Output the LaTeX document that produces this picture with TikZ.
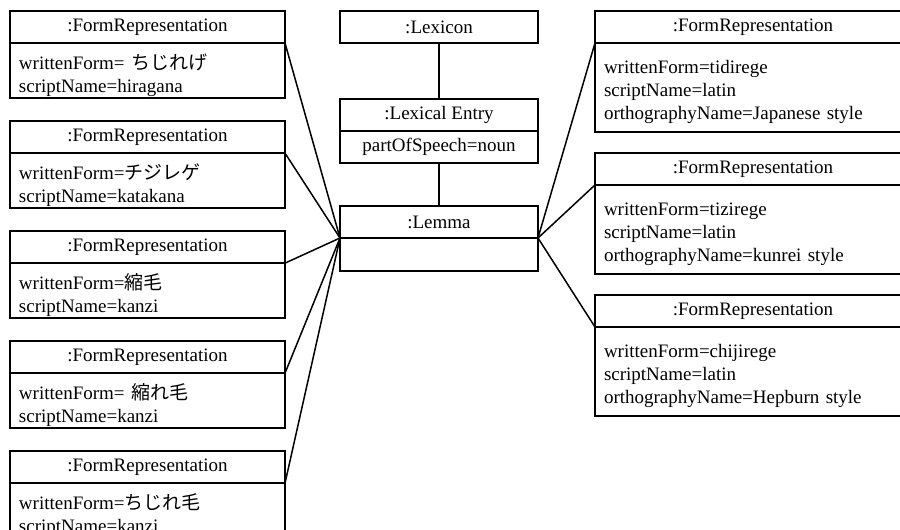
\documentclass[tikz,border=0pt]{standalone}
\usepackage{fontspec}
\setmainfont{Liberation Serif}
\newfontfamily\jpfont{Noto Sans CJK JP}
\usetikzlibrary{positioning}

\begin{document}
\begin{tikzpicture}[
        x=1pt, y=1pt,
        % Styles
        objhead/.style={rectangle, draw, line width=1.6pt, outer sep=0pt, inner sep=0pt, minimum height=32pt, font=\fontsize{19}{23}\selectfont},
        objbody/.style={rectangle, draw, line width=1.6pt, outer sep=0pt, inner xsep=9pt, inner ysep=2pt, align=left, font=\fontsize{19}{23}\selectfont},
        leftbox/.style={minimum width=275pt},
        leftbody/.style={objbody, leftbox, text width=257pt, minimum height=55pt, execute at begin node={\rule{0pt}{24pt}}},
        rightbox/.style={minimum width=316pt},
        rightbody/.style={objbody, rightbox, text width=298pt, minimum height=89pt, execute at begin node={\rule{0pt}{22pt}}},
        midbox/.style={minimum width=198pt},
        line/.style={draw, line width=1.5pt}
    ]
        \useasboundingbox (0,0) rectangle (900,-530);
        \clip (0,0) rectangle (900,-530);

        % Center column
        \node [objhead, midbox, anchor=north west] (lexicon) at (340,-11) {:Lexicon};
        \node [objhead, midbox, below=56pt of lexicon] (entryhead) {:Lexical Entry};
        \node [objbody, midbox, minimum height=32pt, align=center, below=0pt of entryhead] (entrybody) {partOfSpeech=noun};
        \node [objhead, midbox, below=43pt of entrybody] (lemmahead) {:Lemma};
        \node [objbody, midbox, minimum height=33pt, below=0pt of lemmahead] (lemmabody) {};

        % Left column
        \node [objhead, leftbox, anchor=north west] (hira) at (10,-11) {:FormRepresentation};
        \node [leftbody, below=0pt of hira] (hirabody) {writtenForm= {\jpfont ちじれげ}\\scriptName=hiragana};
        \node [objhead, leftbox, below=23pt of hirabody] (kata) {:FormRepresentation};
        \node [leftbody, below=0pt of kata] (katabody) {writtenForm={\jpfont チジレゲ}\\scriptName=katakana};
        \node [objhead, leftbox, below=23pt of katabody] (kanjia) {:FormRepresentation};
        \node [leftbody, below=0pt of kanjia] (kanjiabody) {writtenForm={\jpfont 縮毛}\\scriptName=kanzi};
        \node [objhead, leftbox, below=23pt of kanjiabody] (kanjib) {:FormRepresentation};
        \node [leftbody, below=0pt of kanjib] (kanjibbody) {writtenForm= {\jpfont 縮れ毛}\\scriptName=kanzi};
        \node [objhead, leftbox, below=23pt of kanjibbody] (kanjic) {:FormRepresentation};
        \node [leftbody, below=0pt of kanjic] (kanjicbody) {writtenForm={\jpfont ちじれ毛}\\scriptName=kanzi};

        % Right column
        \node [objhead, rightbox, anchor=north west] (japan) at (595,-11) {:FormRepresentation};
        \node [rightbody, below=0pt of japan] (japanbody) {writtenForm=tidirege\\scriptName=latin\\orthographyName=Japanese style};
        \node [objhead, rightbox, below=21pt of japanbody] (kunrei) {:FormRepresentation};
        \node [rightbody, below=0pt of kunrei] (kunreibody) {writtenForm=tizirege\\scriptName=latin\\orthographyName=kunrei style};
        \node [objhead, rightbox, below=21pt of kunreibody] (hepburn) {:FormRepresentation};
        \node [rightbody, below=0pt of hepburn] (hepburnbody) {writtenForm=chijirege\\scriptName=latin\\orthographyName=Hepburn style};

        % Paths
        \path [line] (lexicon) -- (entryhead);
        \path [line] (entrybody) -- (lemmahead);

        \path [line] (hira.south east) -- (lemmahead.south west);
        \path [line] (kata.south east) -- (lemmahead.south west);
        \path [line] (kanjia.south east) -- (lemmahead.south west);
        \path [line] (kanjib.south east) -- (lemmahead.south west);
        \path [line] (kanjic.south east) -- (lemmahead.south west);

        \path [line] (lemmahead.south east) -- (japan.south west);
        \path [line] (lemmahead.south east) -- (kunrei.south west);
        \path [line] (lemmahead.south east) -- (hepburn.south west);
    \end{tikzpicture}
\end{document}
